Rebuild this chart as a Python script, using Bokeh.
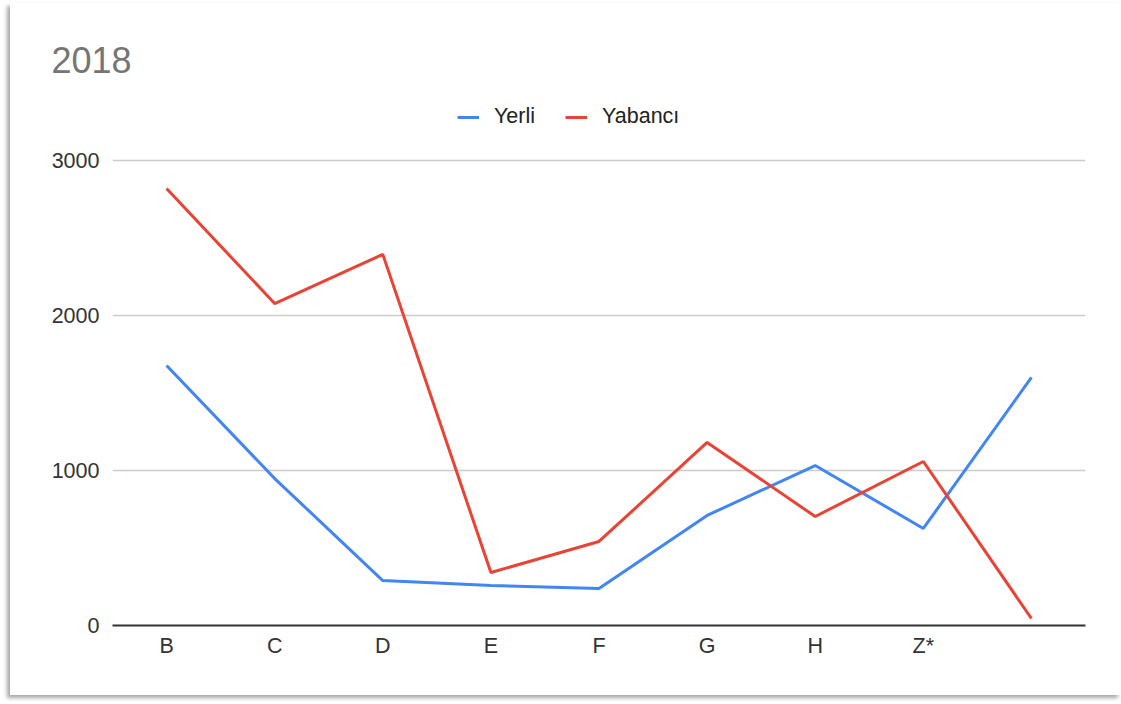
from bokeh.plotting import figure
from bokeh.models import Legend, LegendItem, FixedTicker, Range1d
from bokeh.embed import file_html
from bokeh.resources import INLINE

categories = ["B", "C", "D", "E", "F", "G", "H", "Z*", " "]
yerli = [1677, 948, 290, 258, 239, 710, 1032, 626, 1600]
yabanci = [2819, 2077, 2394, 342, 542, 1181, 703, 1058, 45]
y_ticks = [0, 1000, 2000, 3000]

FONT = "Liberation Sans"

# frame spans from the legend row down to the zero line; top tick stays at 3000
p = figure(
    x_range=categories,
    y_range=Range1d(0, 3535),
    width=1111,
    height=692,
    output_backend="svg",
    toolbar_location=None,
    min_border_left=102,
    min_border_right=36,
    min_border_top=74,
    min_border_bottom=70,
    outline_line_color=None,
    background_fill_color="white",
    border_fill_color="white",
    styles={"margin-left": "10px", "margin-top": "3px",
            "box-shadow": "-3px 3px 4px rgba(0,0,0,0.35)"},
)

p.title.text = "2018"
p.title.text_font = FONT
p.title.text_font_size = "36px"
p.title.text_font_style = "normal"
p.title.text_color = "#757575"
p.title.offset = -61

r1 = p.line(categories, yerli, line_color="#4285F4", line_width=3)
r2 = p.line(categories, yabanci, line_color="#EA4335", line_width=3)

legend = Legend(
    items=[LegendItem(label="Yerli", renderers=[r1]),
           LegendItem(label="Yabancı", renderers=[r2])],
    orientation="horizontal",
    location=(345, 496),
    label_text_font=FONT,
    label_text_font_size="21.5px",
    label_text_color="#222222",
    glyph_width=22,
    glyph_height=24,
    label_standoff=15,
    spacing=30,
    padding=0,
    margin=0,
    border_line_color=None,
    background_fill_alpha=0,
)
p.add_layout(legend, "center")

p.yaxis.ticker = FixedTicker(ticks=y_ticks)
p.yaxis.axis_line_color = None
p.yaxis.major_tick_line_color = None
p.yaxis.minor_tick_line_color = None
p.yaxis.major_label_text_font = FONT
p.yaxis.major_label_text_font_size = "21.5px"
p.yaxis.major_label_text_color = "#333333"
p.yaxis.major_label_standoff = 7

p.xaxis.axis_line_color = "#333333"
p.xaxis.axis_line_width = 2
p.xaxis.major_tick_line_color = None
p.xaxis.minor_tick_line_color = None
p.xaxis.major_label_text_font = FONT
p.xaxis.major_label_text_font_size = "21.5px"
p.xaxis.major_label_text_color = "#333333"
p.xaxis.major_label_standoff = 2

p.xgrid.grid_line_color = None
p.ygrid.grid_line_color = "#cccccc"
p.ygrid.grid_line_width = 1.5

open("out.html", "w").write(file_html(p, INLINE))
